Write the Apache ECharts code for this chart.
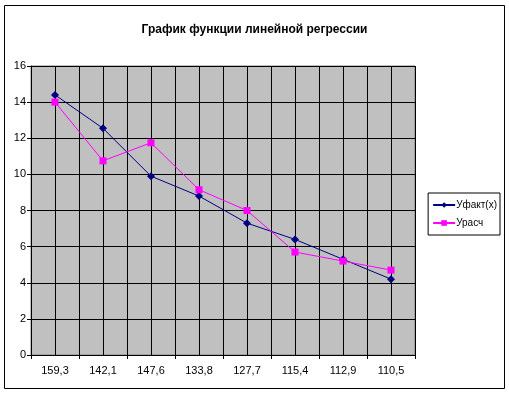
<!DOCTYPE html>
<html><head><meta charset="utf-8">
<script src="https://cdn.jsdelivr.net/npm/echarts@6/dist/echarts.min.js"></script>
<style>html,body{margin:0;padding:0;background:#fff}#c{width:509px;height:395px}</style>
</head><body><div id="c"></div>
<script>
const categories = ['159,3','142,1','147,6','133,8','127,7','115,4','112,9','110,5'];
const yFact = [14.4, 12.55, 9.9, 8.8, 7.3, 6.4, 5.3, 4.2];
const yCalc = [14.0, 10.75, 11.75, 9.15, 8.0, 5.7, 5.2, 4.7];
const seriesNames = ['Уфакт(x)', 'Урасч'];
const yTicks = [0, 2, 4, 6, 8, 10, 12, 14, 16];

const chart = echarts.init(document.getElementById('c'), null, {renderer: 'canvas'});
const font = 'Liberation Sans, Arial, sans-serif';
chart.setOption({
  animation: false,
  backgroundColor: '#fff',
  title: {
    text: 'График функции линейной регрессии',
    left: 'center', top: 19,
    textStyle: {fontFamily: font, fontSize: 12, fontWeight: 'bold', color: '#000'}
  },
  graphic: [{
    type: 'rect', shape: {x: 4.5, y: 5.5, width: 500, height: 383},
    style: {fill: 'none', stroke: '#000', lineWidth: 1}, z: -1
  }],
  legend: {
    orient: 'vertical', right: 9, top: 193,
    borderColor: '#000', borderWidth: 1, padding: [7, 3, 7, 4],
    itemGap: 8, itemWidth: 22, itemHeight: 7,
    textStyle: {fontFamily: font, fontSize: 10, color: '#000', padding: [0, 0, 0, -4]},
    data: seriesNames
  },
  grid: {left: 31, top: 66, width: 384, height: 289, show: true, backgroundColor: '#c0c0c0', borderColor: '#808080', borderWidth: 1},
  xAxis: [{
    type: 'category', data: categories, boundaryGap: true,
    axisLine: {lineStyle: {color: '#000', width: 1}},
    axisTick: {show: true, length: 4, lineStyle: {color: '#000'}},
    axisLabel: {fontFamily: font, fontSize: 11, color: '#000', margin: 10},
    splitLine: {show: false}
  }, {
    type: 'value', min: 0, max: 16, interval: 1, position: 'bottom',
    axisLine: {show: false}, axisTick: {show: false}, axisLabel: {show: false},
    splitLine: {show: true, lineStyle: {color: '#000', width: 1}}
  }],
  yAxis: {
    type: 'value', min: 0, max: 16, interval: 2,
    axisLine: {show: true, lineStyle: {color: '#000'}},
    axisTick: {show: true, length: 4, lineStyle: {color: '#000'}},
    axisLabel: {fontFamily: font, fontSize: 11, color: '#000', margin: 5,
      formatter: v => yTicks.includes(v) ? String(v) : ''},
    splitLine: {show: true, lineStyle: {color: '#000', width: 1}}
  },
  series: [{
    name: seriesNames[0], type: 'line', data: yFact, xAxisIndex: 0,
    symbol: 'diamond', symbolSize: 8, showAllSymbol: true,
    lineStyle: {color: '#000080', width: 1}, itemStyle: {color: '#000080'}, z: 3
  }, {
    name: seriesNames[1], type: 'line', data: yCalc, xAxisIndex: 0,
    symbol: 'rect', symbolSize: 7, showAllSymbol: true,
    lineStyle: {color: '#ff00ff', width: 1}, itemStyle: {color: '#ff00ff'}, z: 3
  }]
});
</script></body></html>
